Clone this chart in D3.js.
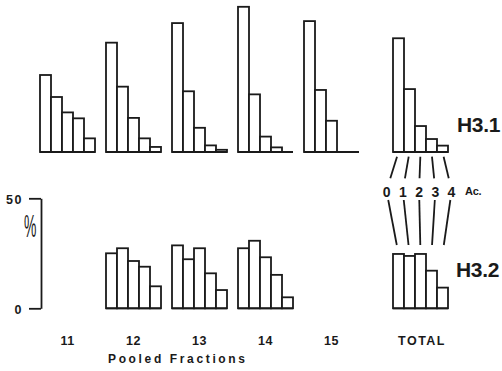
<!DOCTYPE html>
<meta charset="utf-8">
<style>
    body { margin: 0; background: #fff; }
    svg { font-family: "Liberation Sans", Arial, sans-serif; }
    .bar { fill: #fff; stroke: #1a1a1a; stroke-width: 1.8px; }
    .base, .link { stroke: #1a1a1a; stroke-width: 1.8px; fill: none; }
    .axis path, .axis line { stroke: #1a1a1a; stroke-width: 1.8px; }
    .axis text { font-size: 12.5px; font-weight: bold; fill: #1a1a1a; letter-spacing: 1.5px; font-family: "Liberation Sans", Arial, sans-serif; }
    .lbl { font-weight: bold; fill: #1a1a1a; }
</style>
<svg width="502" height="371"></svg>
<script src="https://cdnjs.cloudflare.com/ajax/libs/d3/7.8.5/d3.min.js"></script>
<script>
    // fractions and acetylation states
    var fractions = ["11", "12", "13", "14", "15"];
    var acStates = ["0", "1", "2", "3", "4"];

    // % of each acetylated form, H3.1 (top panel)
    var h31 = {
        "11": [35, 25, 18, 15.3, 6.2],
        "12": [49.7, 29.7, 15.5, 6.2, 2.3],
        "13": [58.6, 27.6, 11, 3, 1],
        "14": [66, 26.2, 7, 2.1, 0],
        "15": [59.5, 28.2, 14.2, 0, 0],
        "TOTAL": [51.7, 28.6, 11.8, 5.9, 2.9]
    };

    // H3.2 (bottom panel)
    var h32 = {
        "12": [25, 27.3, 21.5, 18.9, 10],
        "13": [28.6, 22.3, 27.3, 15.9, 8.3],
        "14": [27.3, 30.7, 23.2, 15.2, 5],
        "TOTAL": [24.7, 23.8, 24.7, 17.1, 9.4]
    };

    var yTicks = [0, 50];

    var svg = d3.select("svg");

    var x = d3.scaleBand().domain(fractions).range([40, 359]).paddingInner(11 / 66);
    var xTotal = d3.scaleBand().domain(["TOTAL"]).range([393, 448]);
    function groupX(k) { return k === "TOTAL" ? xTotal(k) : x(k); }

    var xi = d3.scaleBand().domain(acStates).range([0, x.bandwidth()]);

    var yTop = d3.scaleLinear().domain([0, 50]).range([152, 42]);
    var yBot = d3.scaleLinear().domain([0, 50]).range([308.3, 198.3]);

    function panel(data, y) {
        var keys = Object.keys(data);
        var grp = svg.append("g").selectAll("g")
            .data(keys)
            .enter().append("g")
            .attr("transform", function(k) { return "translate(" + groupX(k) + ",0)"; });

        grp.selectAll(".bar")
            .data(function(k) { return data[k].map(function(v, i) { return { ac: acStates[i], v: v }; }).filter(function(d) { return d.v > 0; }); })
            .enter().append("rect")
            .attr("class", "bar")
            .attr("x", function(d) { return xi(d.ac); })
            .attr("width", xi.bandwidth())
            .attr("y", function(d) { return y(d.v); })
            .attr("height", function(d) { return y(0) - y(d.v); });

        grp.append("line")
            .attr("class", "base")
            .attr("x1", 0)
            .attr("x2", xi.bandwidth() * acStates.length)
            .attr("y1", y(0))
            .attr("y2", y(0));
    }

    panel(h31, yTop);
    panel(h32, yBot);

    // left axis
    var axis = svg.append("g")
        .attr("class", "axis")
        .attr("transform", "translate(41,0)")
        .call(d3.axisLeft(yBot).tickValues(yTicks).tickSize(12).tickSizeOuter(0).tickPadding(6));
    axis.selectAll("text").attr("dy", "0.4em");

    svg.append("text")
        .attr("class", "lbl")
        .attr("transform", "translate(24,237) scale(0.45,1)")
        .style("font-weight", "normal")
        .style("font-size", "31px")
        .text("%");

    // fraction labels
    svg.append("g").selectAll("text")
        .data(fractions.concat(["TOTAL"]))
        .enter().append("text")
        .attr("class", "lbl")
        .attr("x", function(k) { return groupX(k) + x.bandwidth() / 2 + (k === "TOTAL" ? 1 : 0); })
        .attr("y", 345)
        .attr("text-anchor", "middle")
        .style("font-size", "12.5px")
        .style("letter-spacing", "0.5px")
        .each(function(k) {
            if (k === "TOTAL") d3.select(this).attr("textLength", 47).attr("lengthAdjust", "spacing");
        })
        .text(function(k) { return k; });

    svg.append("text")
        .attr("class", "lbl")
        .attr("x", 108)
        .attr("y", 363)
        .attr("textLength", 137)
        .attr("lengthAdjust", "spacing")
        .style("font-size", "12px")
        .text("Pooled Fractions");

    // panel labels
    svg.append("text").attr("class", "lbl").attr("x", 457).attr("y", 132)
        .style("font-size", "21px").style("letter-spacing", "-0.3px").text("H3.1");
    svg.append("text").attr("class", "lbl").attr("x", 456).attr("y", 277)
        .style("font-size", "21px").style("letter-spacing", "-0.3px").text("H3.2");

    // acetylation state labels and connecting lines
    var xl = d3.scalePoint().domain(acStates).range([386.7, 451.5]);

    svg.append("g").selectAll("text")
        .data(acStates)
        .enter().append("text")
        .attr("class", "lbl")
        .attr("x", function(d) { return xl(d); })
        .attr("y", 197)
        .attr("text-anchor", "middle")
        .style("font-size", "14px")
        .text(function(d) { return d; });

    svg.append("text").attr("class", "lbl").attr("x", 465).attr("y", 195)
        .style("font-size", "11px").style("letter-spacing", "-0.3px").text("Ac.");

    function seg(x0, y0, x1, y1, ya, yb) {
        var ta = (ya - y0) / (y1 - y0), tb = (yb - y0) / (y1 - y0);
        return [x0 + (x1 - x0) * ta, ya, x0 + (x1 - x0) * tb, yb];
    }

    var tx = xTotal("TOTAL");
    acStates.forEach(function(a) {
        var bc = tx + xi(a) + xi.bandwidth() / 2;
        var s1 = seg(bc, 152, xl(a), 190, 156.7, 178.3);
        var s2 = seg(xl(a), 192, bc, 254, 200, 245);
        [s1, s2].forEach(function(s) {
            svg.append("line").attr("class", "link")
                .attr("x1", s[0]).attr("y1", s[1]).attr("x2", s[2]).attr("y2", s[3]);
        });
    });
</script>
